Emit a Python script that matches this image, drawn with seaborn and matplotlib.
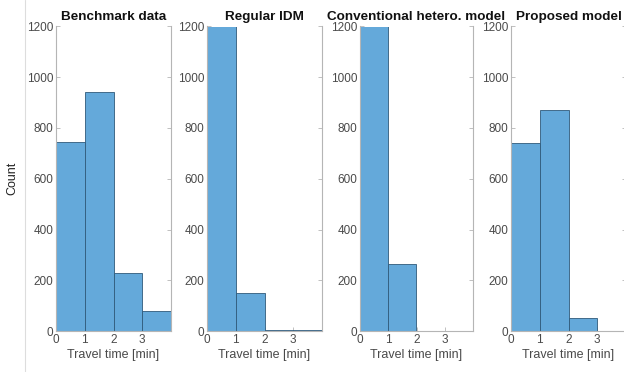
import numpy as np
import pandas as pd
import matplotlib
matplotlib.use("Agg")
import matplotlib.pyplot as plt
import seaborn as sns
from matplotlib.lines import Line2D

# ---- data ----
titles = ["Benchmark data", "Regular IDM", "Conventional hetero. model", "Proposed model"]
bin_edges = [0, 1, 2, 3, 4]
bin_centers = [0.5, 1.5, 2.5, 3.5]
benchmark = [745, 941, 229, 79]
regular_idm = [1843, 151, 3, 2]
conventional = [1728, 266, 0, 0]
proposed = [740, 870, 50, 0]
x_ticks = [0, 1, 2, 3]
y_ticks = [0, 200, 400, 600, 800, 1000, 1200]
x_label = "Travel time [min]"
y_label = "Count"

series = [benchmark, regular_idm, conventional, proposed]
rows = []
for t, vals in zip(titles, series):
    for c, v in zip(bin_centers, vals):
        rows.append({"model": t, "time": c, "count": v})
df = pd.DataFrame(rows)

sns.set_style("white")
plt.rcParams["font.family"] = ["Liberation Sans", "DejaVu Sans"]

W, H = 624, 372
fig = plt.figure(figsize=(W / 100, H / 100), dpi=100)

lefts = [56, 207, 360, 511]
widths = [115, 115, 113, 115]
top_px, bot_px = 26.5, 331
face = "#64a9da"
edge = "#2f5a7a"
spine_c = "#b5b5b5"
text_c = "#4a4a4a"

for i, (t, l, w) in enumerate(zip(titles, lefts, widths)):
    ax = fig.add_axes([l / W, (H - bot_px) / H, w / W, (bot_px - top_px) / H])
    sub = df[df["model"] == t]
    sns.histplot(data=sub, x="time", weights="count", bins=bin_edges, ax=ax,
                 color=face, edgecolor=edge, linewidth=0.6, alpha=1.0)
    ax.set_xlim(0, 4)
    ax.set_ylim(0, 1200)
    ax.set_xticks(x_ticks)
    ax.set_yticks(y_ticks)
    ax.set_xticklabels([str(v) for v in x_ticks])
    ax.set_yticklabels([str(v) for v in y_ticks])
    for name, s in ax.spines.items():
        s.set_visible(name != "top")
        s.set_color(spine_c)
        s.set_linewidth(0.8)
    ax.tick_params(axis="both", direction="in", length=3, width=0.6, color=spine_c,
                   labelsize=8.5, labelcolor=text_c, pad=2,
                   left=True, right=True, bottom=True, top=False)
    ax.set_title(t, fontsize=9.7, fontweight="bold", color="#111111", pad=5)
    ax.set_xlabel(x_label, fontsize=9, color=text_c, labelpad=2)
    if i == 0:
        ax.set_ylabel(y_label, fontsize=9, color="#222222", labelpad=6)
    else:
        ax.set_ylabel("")
    ax.set_facecolor("white")

fig.add_artist(Line2D([25 / W, 25 / W], [0, 1], transform=fig.transFigure,
                      color="#dddddd", linewidth=0.8))

fig.savefig("out.png", dpi=100, facecolor="white")
